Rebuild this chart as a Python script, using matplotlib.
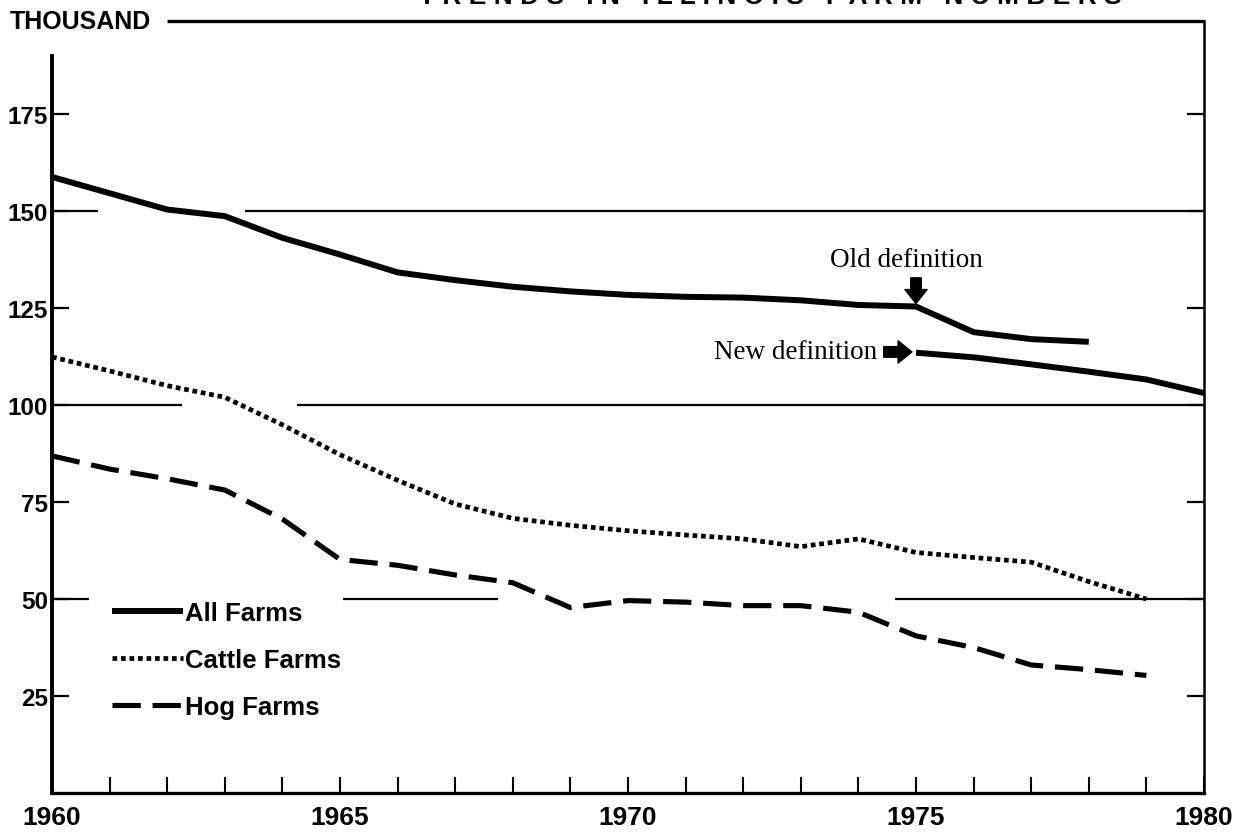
import matplotlib
matplotlib.use("Agg")
import matplotlib.pyplot as plt
from matplotlib import font_manager as fm

# ---------------- data ----------------
years_all_old = [1960, 1962, 1963, 1964, 1965, 1966, 1967, 1968, 1969, 1970,
                 1971, 1972, 1973, 1974, 1975, 1976, 1977, 1978]
all_farms_old = [158.8, 150.4, 148.7, 143.1, 138.8, 134.2, 132.2, 130.5, 129.3, 128.4,
                 127.9, 127.7, 127.0, 125.8, 125.4, 118.8, 117.0, 116.3]

years_all_new = [1975, 1976, 1977, 1978, 1979, 1980]
all_farms_new = [113.5, 112.3, 110.5, 108.6, 106.6, 103.1]

years_cattle = [1960, 1961, 1962, 1963, 1964, 1965, 1966, 1967, 1968, 1969, 1970,
                1971, 1972, 1973, 1974, 1975, 1976, 1977, 1978, 1979]
cattle_farms = [112.4, 108.8, 105.0, 102.0, 94.9, 87.2, 80.6, 74.5, 70.8, 69.0, 67.6,
                66.5, 65.5, 63.5, 65.5, 62.0, 60.7, 59.5, 54.5, 50.0]

years_hog = [1960, 1961, 1962, 1963, 1964, 1965, 1966, 1967, 1968, 1969, 1970,
             1971, 1972, 1973, 1974, 1975, 1976, 1977, 1978, 1979]
hog_farms = [86.9, 83.5, 81.0, 78.1, 70.6, 60.2, 58.7, 56.2, 54.2, 47.8, 49.6,
             49.2, 48.3, 48.3, 46.6, 40.5, 37.5, 33.0, 31.8, 30.3]

x_ticks = list(range(1960, 1981))
x_tick_labels = [str(y) if y % 5 == 0 else "" for y in x_ticks]
y_ticks = [25, 50, 75, 100, 125, 150, 175]
y_tick_labels = ["25", "50", "75", "100", "125", "150", "175"]
legend_labels = ["All Farms", "Cattle Farms", "Hog Farms"]

# ---------------- fonts ----------------
def have(name):
    try:
        fm.findfont(fm.FontProperties(family=name), fallback_to_default=False)
        return True
    except Exception:
        return False

SANS = "Liberation Sans"
NARROW = "Liberation Sans Narrow" if have("Liberation Sans Narrow") else "Liberation Sans"
SERIF = "Liberation Serif"
plt.rcParams["font.family"] = [SANS, "DejaVu Sans"]

W, H = 1246, 837
fig = plt.figure(figsize=(W / 100, H / 100), dpi=100)
fig.patch.set_facecolor("white")

# axes placement in pixels
x0, x1 = 52, 1204
y_bot, y_top = 794, 22
ax = fig.add_axes([x0 / W, 1 - y_bot / H, (x1 - x0) / W, (y_bot - y_top) / H])
YMAX = 199
ax.set_xlim(1960, 1980)
ax.set_ylim(0, YMAX)
ax.set_facecolor("white")

# ---------------- series ----------------
ax.plot(years_all_old, all_farms_old, color="black", lw=4.3,
        solid_capstyle="butt", solid_joinstyle="round", label=legend_labels[0])
ax.plot(years_all_new, all_farms_new, color="black", lw=4.3,
        solid_capstyle="butt", solid_joinstyle="round")
ax.plot(years_cattle, cattle_farms, color="black", lw=3.4,
        linestyle=(0, (1.0, 0.8)), dash_capstyle="butt", label=legend_labels[1])
ax.plot(years_hog, hog_farms, color="black", lw=3.7,
        linestyle=(0, (5.5, 2.3)), dash_capstyle="butt", label=legend_labels[2])

# ---------------- broken horizontal guide lines ----------------
grid_kw = dict(color="black", lw=1.6)
ax.hlines(150, 1960, 1960.8, **grid_kw)
ax.hlines(150, 1963.35, 1980, **grid_kw)
ax.hlines(100, 1960, 1962.26, **grid_kw)
ax.hlines(100, 1964.25, 1980, **grid_kw)
ax.hlines(50, 1960, 1960.65, **grid_kw)
ax.hlines(50, 1965.05, 1967.74, **grid_kw)
ax.hlines(50, 1974.64, 1980, **grid_kw)

# ---------------- spines ----------------
ax.spines["top"].set_visible(False)
ax.spines["left"].set_linewidth(2.8)
ax.spines["left"].set_bounds(0, 190)
ax.spines["bottom"].set_linewidth(2.4)
ax.spines["right"].set_linewidth(1.8)
ax.plot([1962.0, 1980], [YMAX, YMAX], color="black", lw=2.4,
        clip_on=False, solid_capstyle="butt")

# ---------------- ticks ----------------
ax.set_xticks(x_ticks)
ax.set_xticklabels(x_tick_labels, fontfamily=[NARROW, "DejaVu Sans"],
                   fontweight="bold", fontsize=19)
ax.tick_params(axis="x", direction="in", length=11.5, width=1.5, pad=9,
               top=False, bottom=True)
ax.set_yticks(y_ticks)
ax.set_yticklabels(y_tick_labels, fontweight="bold", fontsize=17.5)
ax.tick_params(axis="y", direction="in", length=12.5, width=1.6, pad=3,
               left=True, right=True)

# ---------------- legend ----------------
leg = ax.legend(loc="center left",
                bbox_to_anchor=((112 - x0) / (x1 - x0), (y_bot - 661) / (y_bot - y_top)),
                frameon=False, handlelength=2.75, handletextpad=0.08,
                labelspacing=0.9, borderpad=0, borderaxespad=0,
                prop={"weight": "bold", "size": 18.5})

# ---------------- annotations ----------------
arrow_style = "simple,head_length=0.5,head_width=0.8,tail_width=0.38"
ax.text(1974.84, 134.2, "Old definition", fontfamily=[SERIF, "DejaVu Serif"],
        fontsize=19.5, ha="center", va="bottom")
ax.annotate("", xy=(1975.0, 126.2), xytext=(1975.0, 132.8),
            arrowprops=dict(arrowstyle=arrow_style, color="black",
                            shrinkA=0, shrinkB=0, mutation_scale=20))
ax.text(1974.32, 113.9, "New definition", fontfamily=[SERIF, "DejaVu Serif"],
        fontsize=19.5, ha="right", va="center")
ax.annotate("", xy=(1974.93, 113.7), xytext=(1974.44, 113.7),
            arrowprops=dict(arrowstyle=arrow_style, color="black",
                            shrinkA=0, shrinkB=0, mutation_scale=20))

# ---------------- figure texts ----------------
fig.text(10 / W, 1 - 22 / H, "THOUSAND", fontfamily=[NARROW, "DejaVu Sans"],
         fontweight="bold", fontsize=18, ha="left", va="center")
fig.text(770 / W, 1 - 9 / H,
         "T R E N D S   I N   I L L I N O I S   F A R M   N U M B E R S",
         fontfamily=[NARROW, "DejaVu Sans"], fontweight="bold", fontsize=19,
         ha="center", va="bottom")

fig.savefig("out.png", dpi=100, facecolor="white")
